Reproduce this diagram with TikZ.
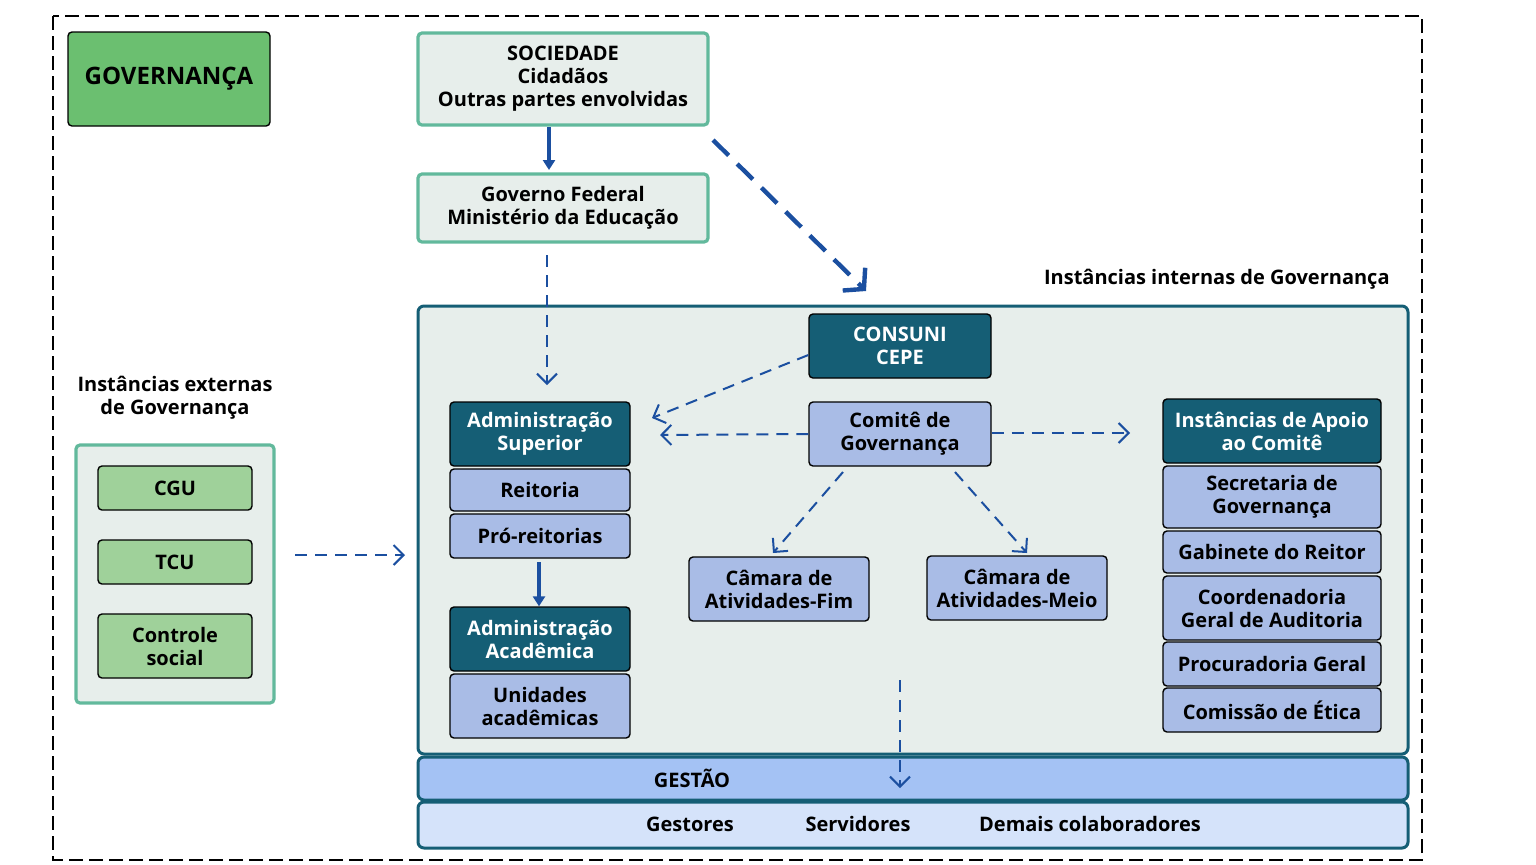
\documentclass[tikz,border=0pt]{standalone}
\usepackage{fontspec}
\setmainfont{Open Sans}
\usetikzlibrary{arrows.meta}
\definecolor{dteal}{HTML}{155E75}
\definecolor{lblue}{HTML}{A9BCE6}
\definecolor{mint}{HTML}{62B99C}
\definecolor{pale}{HTML}{E7EEEB}
\definecolor{gdark}{HTML}{6BBF70}
\definecolor{glight}{HTML}{9FD19A}
\definecolor{gest}{HTML}{A4C2F4}
\definecolor{bot}{HTML}{D5E3FA}
\definecolor{arr}{HTML}{1B4FA0}
\begin{document}
\begin{tikzpicture}[x=0.5pt,y=-0.5pt,
 every node/.style={font=\fontsize{10}{11.5}\selectfont\bfseries, align=center, inner sep=0pt},
 box/.style={draw=black, line width=0.7pt, rounded corners=2pt},
 dbox/.style={box, fill=dteal, text=white},
 lbox/.style={box, fill=lblue},
 mbox/.style={draw=mint, line width=1.6pt, fill=pale, rounded corners=2pt},
 gbox/.style={box, fill=glight},
 darr/.style={draw=arr, line width=1pt, dash pattern=on 6pt off 4pt, -{Straight Barb[length=5pt,width=10pt]}},
 sarr/.style={draw=arr, line width=1.6pt, -{Triangle[length=5pt,width=6pt]}}]
\useasboundingbox (0,0) rectangle (1536,864);
\draw[line width=1.2pt, dash pattern=on 7pt off 3pt] (53,16) rectangle (1422,860);
\node[box, fill=gdark, minimum width=101pt, minimum height=47pt, font=\fontsize{12}{14}\selectfont\bfseries] (gov) at (169,79) {GOVERNANÇA};
\node[mbox, minimum width=145pt, minimum height=46pt] (soc) at (563,79) {SOCIEDADE\\Cidadãos\\Outras partes envolvidas};
\node[mbox, minimum width=145pt, minimum height=34pt] (gf) at (563,208) {Governo Federal\\Ministério da Educação};
\draw[sarr] (549,127) -- (549,170);
\coordinate (c1) at (713,140); \coordinate (c2) at (866,291);
\draw[darr, line width=2.2pt, dash pattern=on 11pt off 6pt, -{Straight Barb[length=7pt,width=16pt]}] (c1) -- (c2);
\node[anchor=east] (ii) at (1390,279) {Instâncias internas de Governança};
\draw[draw=dteal, line width=1.5pt, fill=pale, rounded corners=3pt] (418,306) rectangle (1408,754);
\coordinate (g1) at (547,255); \coordinate (g2) at (547,385);
\draw[darr] (g1) -- (g2);
\node[dbox, minimum width=91pt, minimum height=32pt] (cons) at (900,346) {CONSUNI\\CEPE};
\node[lbox, minimum width=91pt, minimum height=32pt] (com) at (900,434) {Comitê de\\Governança};
\node[dbox, minimum width=90pt, minimum height=32pt] (as) at (540,434) {Administração\\Superior};
\node[lbox, minimum width=90pt, minimum height=21pt] (rei) at (540,490) {Reitoria};
\node[lbox, minimum width=90pt, minimum height=22pt] (pro) at (540,536) {Pró-reitorias};
\node[dbox, minimum width=90pt, minimum height=32pt] (aa) at (540,639) {Administração\\Acadêmica};
\node[lbox, minimum width=90pt, minimum height=32pt] (ua) at (540,706) {Unidades\\acadêmicas};
\draw[sarr] (539,562) -- (aa.north -| 539,0);
\node[lbox, minimum width=90pt, minimum height=32pt] (cf) at (779,589) {Câmara de\\Atividades-Fim};
\node[lbox, minimum width=90pt, minimum height=32pt] (cm) at (1017,588) {Câmara de\\Atividades-Meio};
\node[dbox, minimum width=109pt, minimum height=32pt] (ap) at (1272,431) {Instâncias de Apoio\\ao Comitê};
\node[lbox, minimum width=109pt, minimum height=31pt] (sec) at (1272,497) {Secretaria de\\Governança};
\node[lbox, minimum width=109pt, minimum height=21pt] (gab) at (1272,552) {Gabinete do Reitor};
\node[lbox, minimum width=109pt, minimum height=32pt] (coo) at (1272,608) {Coordenadoria\\Geral de Auditoria};
\node[lbox, minimum width=109pt, minimum height=22pt] (prc) at (1272,664) {Procuradoria Geral};
\node[lbox, minimum width=109pt, minimum height=22pt] (cet) at (1272,710) {Comissão de Ética};
\coordinate (t1) at (652,418); \coordinate (t2) at (660,435); \coordinate (t3) at (1130,433);
\coordinate (t4) at (773,553); \coordinate (t5) at (1027,553);
\draw[darr] (cons.west |- 0,355) -- (t1);
\draw[darr] (com.west) -- (t2);
\draw[darr] (com.east |- 0,433) -- (t3);
\draw[darr] (843,472) -- (t4);
\draw[darr] (955,472) -- (t5);
\node[align=center] (ie) at (175,398) {Instâncias externas\\de Governança};
\node[mbox, minimum width=99pt, minimum height=129pt] (ext) at (175,574) {};
\node[gbox, minimum width=77pt, minimum height=22pt] (cgu) at (175,488) {CGU};
\node[gbox, minimum width=77pt, minimum height=22pt] (tcu) at (175,562) {TCU};
\node[gbox, minimum width=77pt, minimum height=32pt] (cs) at (175,646) {Controle\\social};
\coordinate (e1) at (295,555); \coordinate (e2) at (405,555);
\draw[darr] (e1) -- (e2);
\draw[draw=dteal, line width=1.5pt, fill=gest, rounded corners=3pt] (418,757) rectangle (1408,800);
\node (gs) at (692,778) {GESTÃO};
\draw[draw=dteal, line width=1.5pt, fill=bot, rounded corners=3pt] (418,802) rectangle (1408,848);
\node (g1n) at (690,824) {Gestores};
\node (g2n) at (858,824) {Servidores};
\node (g3n) at (1090,824) {Demais colaboradores};
\coordinate (v1) at (900,680); \coordinate (v2) at (900,788);
\draw[darr] (v1) -- (v2);
\end{tikzpicture}
\end{document}
